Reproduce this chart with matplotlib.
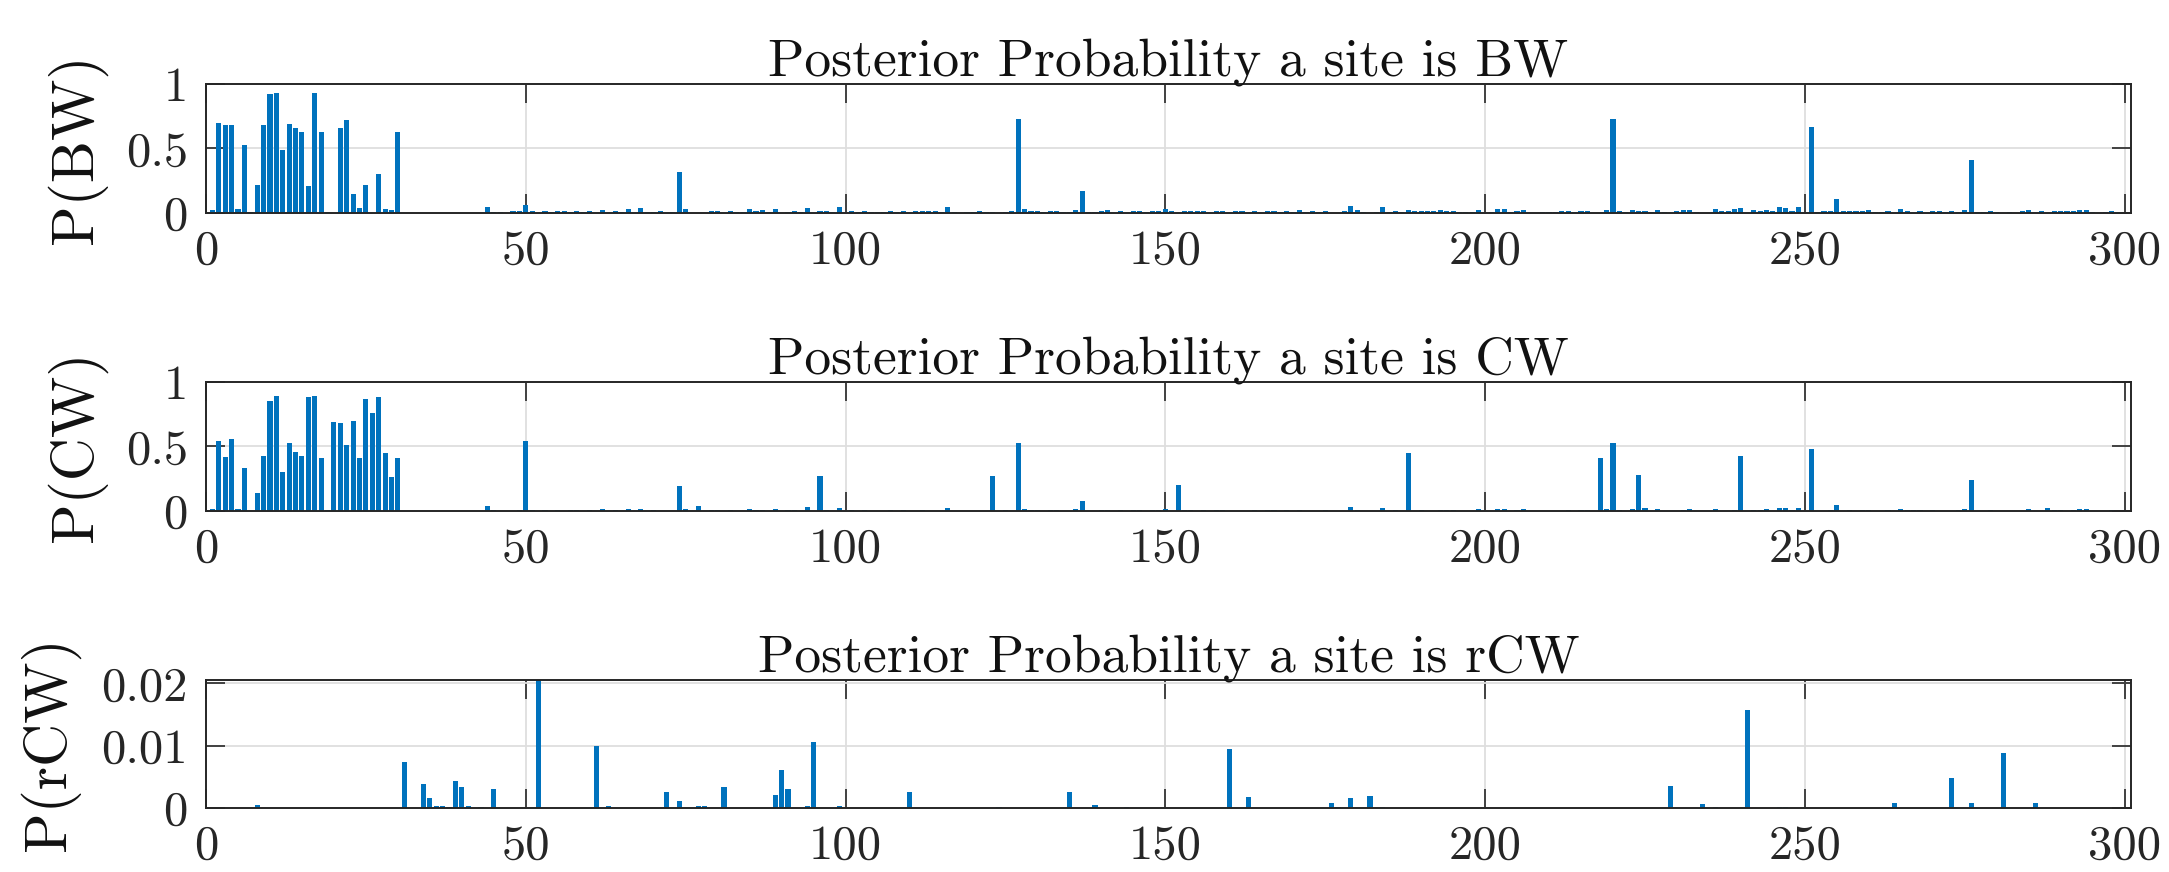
import numpy as np
import matplotlib.pyplot as plt

# ---- data (site index -> posterior probability) ----
n_sites = 300

bw_sites = [1, 2, 3, 4, 5, 6, 7, 8, 9, 10, 11, 12, 13, 14, 15, 16, 17, 18, 19,
            21, 22, 23, 24, 25, 27, 28, 29, 30,
            44, 45, 46, 47, 48, 49, 50, 51, 53, 54, 55, 56, 57, 58, 59, 60, 62,
            64, 65, 66, 68, 69, 70, 71, 73, 74, 75, 79, 80, 82, 83, 84, 85, 86,
            87, 88, 89, 91, 92, 93, 94, 96, 97, 98, 99,
            101, 102, 103, 104, 105, 106, 107, 108, 109, 111, 112, 113, 114, 115,
            116, 117, 119, 120, 121, 122, 123, 125, 126, 127, 128, 129, 130, 131,
            132, 133, 134, 135, 136, 137, 138, 139, 140, 141, 143, 145, 146, 147,
            148, 149, 150, 151, 153, 154, 155, 156, 158, 159, 161, 162, 164, 166,
            167, 168, 169, 170, 171, 172, 173, 174, 175, 178, 179, 180, 181, 183,
            184, 185, 186, 187, 188, 189, 190, 191, 192, 193, 194, 195, 196, 197,
            198, 199,
            201, 202, 203, 204, 205, 206, 209, 210, 211, 212, 213, 214, 215, 216,
            219, 220, 221, 222, 223, 224, 225, 226, 227, 228, 230, 231, 232, 233,
            236, 237, 238, 239, 240, 242, 243, 244, 245, 246, 247, 248, 249, 251,
            252, 253, 254, 255, 256, 257, 258, 259, 260, 261, 262, 263, 265, 266,
            268, 270, 271, 272, 273, 274, 275, 276, 277, 278, 279, 280, 282, 284,
            285, 287, 289, 290, 291, 292, 293, 294, 295, 297, 298, 299]
bw_vals = [0.02, 0.70, 0.68, 0.68, 0.03, 0.53, 0.01, 0.22, 0.68, 0.92, 0.93, 0.49,
           0.69, 0.66, 0.63, 0.21, 0.93, 0.63, 0.01,
           0.66, 0.72, 0.15, 0.04, 0.22, 0.30, 0.03, 0.02, 0.63,
           0.05, 0.01, 0.01, 0.003, 0.013, 0.013, 0.06, 0.013, 0.013, 0.008, 0.013,
           0.013, 0.008, 0.013, 0.008, 0.013, 0.02,
           0.013, 0.008, 0.03, 0.035, 0.008, 0.008, 0.013, 0.008, 0.32, 0.03, 0.013,
           0.013, 0.013, 0.008, 0.008, 0.03, 0.013,
           0.02, 0.008, 0.03, 0.008, 0.013, 0.008, 0.04, 0.013, 0.013, 0.008, 0.045,
           0.013, 0.008, 0.013, 0.008, 0.008, 0.008, 0.013, 0.008, 0.013, 0.013,
           0.013, 0.013, 0.013, 0.008,
           0.045, 0.005, 0.005, 0.008, 0.013, 0.008, 0.008, 0.008, 0.013, 0.73,
           0.03, 0.013, 0.013, 0.008,
           0.013, 0.013, 0.005, 0.005, 0.025, 0.17, 0.005, 0.005, 0.013, 0.02,
           0.013, 0.013, 0.013, 0.008,
           0.013, 0.013, 0.03, 0.013, 0.013, 0.013, 0.013, 0.013, 0.013, 0.013,
           0.013, 0.013, 0.013, 0.013,
           0.013, 0.005, 0.013, 0.008, 0.02, 0.008, 0.013, 0.008, 0.013, 0.013,
           0.055, 0.02, 0.005, 0.008,
           0.045, 0.005, 0.013, 0.005, 0.025, 0.013, 0.013, 0.013, 0.013, 0.02,
           0.013, 0.013, 0.008, 0.008,
           0.008, 0.02,
           0.008, 0.03, 0.03, 0.008, 0.013, 0.02, 0.008, 0.008, 0.008, 0.013, 0.013,
           0.008, 0.013, 0.013,
           0.02, 0.73, 0.013, 0.008, 0.02, 0.013, 0.013, 0.008, 0.025, 0.008, 0.013,
           0.02, 0.025, 0.008,
           0.03, 0.013, 0.013, 0.03, 0.035, 0.02, 0.013, 0.02, 0.013, 0.045, 0.035,
           0.013, 0.045, 0.67,
           0.008, 0.013, 0.013, 0.11, 0.013, 0.013, 0.013, 0.013, 0.02, 0.008, 0.008,
           0.013, 0.03, 0.013,
           0.013, 0.013, 0.013, 0.005, 0.013, 0.008, 0.025, 0.41, 0.008, 0.008,
           0.013, 0.008, 0.008, 0.013,
           0.02, 0.013, 0.013, 0.013, 0.013, 0.013, 0.02, 0.02, 0.008, 0.008, 0.013,
           0.008]

cw_sites = [1, 2, 3, 4, 5, 6, 8, 9, 10, 11, 12, 13, 14, 15, 16, 17, 18, 19, 20,
            21, 22, 23, 24, 25, 26, 27, 28, 29, 30,
            44, 45, 49, 50, 51, 53, 55, 57, 58, 60, 62, 64, 66, 68, 70, 74, 75, 77,
            79, 80, 82, 85, 86, 87, 89, 91, 92, 94, 96, 97, 99,
            101, 103, 107, 109, 112, 116, 123, 125, 127, 128, 129, 130, 132, 133,
            136, 137, 140, 141, 143, 145, 146, 148, 149, 150, 152, 153, 154, 156,
            158, 159, 164, 166, 167, 169, 171, 175, 179, 180, 184, 186, 188, 190,
            193, 194, 195, 199,
            202, 203, 205, 206, 213, 215, 216, 218, 219, 220, 221, 223, 224, 225,
            227, 231, 232, 236, 239, 240, 242, 243, 244, 246, 247, 248, 249, 251,
            254, 255, 257, 259, 260, 263, 265, 266, 267, 268, 270, 274, 275, 276,
            279, 285, 288, 289, 290, 292, 293, 294, 298]
cw_vals = [0.015, 0.54, 0.42, 0.56, 0.015, 0.33, 0.14, 0.43, 0.85, 0.89, 0.30, 0.53,
           0.46, 0.43, 0.88, 0.89, 0.41, 0.005, 0.69,
           0.68, 0.51, 0.70, 0.41, 0.87, 0.76, 0.88, 0.45, 0.26, 0.41,
           0.04, 0.01, 0.005, 0.54, 0.01, 0.008, 0.008, 0.005, 0.005, 0.008, 0.015,
           0.008, 0.018, 0.018, 0.005, 0.19, 0.015, 0.04,
           0.008, 0.008, 0.008, 0.013, 0.008, 0.008, 0.013, 0.008, 0.008, 0.03,
           0.27, 0.008, 0.022,
           0.005, 0.005, 0.008, 0.008, 0.008, 0.02, 0.27, 0.005, 0.53, 0.015, 0.008,
           0.008, 0.008, 0.008,
           0.015, 0.075, 0.008, 0.008, 0.008, 0.008, 0.008, 0.008, 0.008, 0.013,
           0.20, 0.008, 0.005, 0.008,
           0.008, 0.008, 0.008, 0.008, 0.005, 0.008, 0.008, 0.008, 0.03, 0.008,
           0.024, 0.008, 0.45, 0.005,
           0.008, 0.008, 0.005, 0.013,
           0.013, 0.016, 0.008, 0.013, 0.008, 0.008, 0.008, 0.41, 0.013, 0.53,
           0.008, 0.013, 0.28, 0.02,
           0.013, 0.008, 0.013, 0.013, 0.008, 0.43, 0.008, 0.008, 0.013, 0.02, 0.02,
           0.008, 0.02, 0.48,
           0.008, 0.045, 0.008, 0.008, 0.008, 0.008, 0.013, 0.008, 0.008, 0.008,
           0.008, 0.008, 0.015, 0.24,
           0.005, 0.013, 0.02, 0.008, 0.008, 0.008, 0.013, 0.013, 0.005]

rcw_sites = [8, 31, 34, 35, 36, 37, 38, 39, 40, 41, 43, 45, 52, 61, 63, 72, 74, 77,
             78, 81, 89, 90, 91, 94, 95, 99, 110, 124, 135, 139, 144, 160, 163,
             176, 177, 179, 182, 184, 229, 234, 236, 241, 246, 247, 264, 273, 276,
             281, 286]
rcw_vals = [0.0005, 0.0074, 0.0038, 0.0016, 0.0004, 0.0004, 0.0002, 0.0044, 0.0033,
            0.0004, 0.0002, 0.0030, 0.0210, 0.0100, 0.0004, 0.0025, 0.0012, 0.0003,
            0.0003, 0.0033, 0.0021, 0.0061, 0.0030, 0.0004, 0.0106, 0.0003, 0.0026,
            0.0002, 0.0025, 0.0005, 0.0001, 0.0095, 0.0018,
            0.0008, 0.0001, 0.0016, 0.0020, 0.0001, 0.0035, 0.0006, 0.0001, 0.0157,
            0.0001, 0.0001, 0.0008, 0.0048, 0.0008,
            0.0088, 0.0008]

titles = ['Posterior Probability a site is BW',
          'Posterior Probability a site is CW',
          'Posterior Probability a site is rCW']
ylabels = ['P(BW)', 'P(CW)', 'P(rCW)']
yticks = [[0, 0.5, 1], [0, 0.5, 1], [0, 0.01, 0.02]]
yticklabels = [['0', '0.5', '1'], ['0', '0.5', '1'], ['0', '0.01', '0.02']]
ylims = [(0, 1), (0, 1), (0, 0.0205)]
xticks = [0, 50, 100, 150, 200, 250, 300]


def full(sites, vals):
    y = np.zeros(n_sites)
    y[np.array(sites) - 1] = vals
    return y


series = [full(bw_sites, bw_vals), full(cw_sites, cw_vals), full(rcw_sites, rcw_vals)]
x = np.arange(1, n_sites + 1)

plt.rcParams['font.family'] = ['cmr10', 'DejaVu Serif']
plt.rcParams['axes.unicode_minus'] = False

fig = plt.figure(figsize=(21.69, 8.72), dpi=100)

W, H = 2169.0, 872.0
left, right = 206, 2131
tops = [84, 382, 680]
bottoms = [213, 511, 808]
ylab_x = [77, 77, 50]
edge = '#262626'

for i in range(3):
    ax = fig.add_axes([left / W, 1 - bottoms[i] / H, (right - left) / W,
                       (bottoms[i] - tops[i]) / H])
    ax.bar(x, series[i], width=0.8, color='#0072BD', linewidth=0, zorder=2)
    ax.set_xlim(0, 301)
    ax.set_ylim(*ylims[i])
    ax.set_xticks(xticks)
    ax.set_xticklabels([str(t) for t in xticks])
    ax.set_yticks(yticks[i])
    ax.set_yticklabels(yticklabels[i])
    ax.grid(True, color='#dedede', linewidth=1.3, zorder=0)
    ax.set_axisbelow(True)
    ax.tick_params(direction='in', length=14, width=1.2, color=edge,
                   top=True, right=True, labelsize=35, labelcolor='#262626')
    ax.tick_params(axis='x', pad=12)
    ax.tick_params(axis='y', pad=13)
    for s in ax.spines.values():
        s.set_color(edge)
        s.set_linewidth(1.4)
    ax.set_title(titles[i], fontsize=38.5, color='#111111', pad=6)
    ax.set_ylabel(ylabels[i], fontsize=43, color='#111111')
    ax.yaxis.label.set_va('center')
    ax.yaxis.set_label_coords((ylab_x[i] - left) / (right - left), 0.5)

fig.savefig('out.png', dpi=100, facecolor='white')
